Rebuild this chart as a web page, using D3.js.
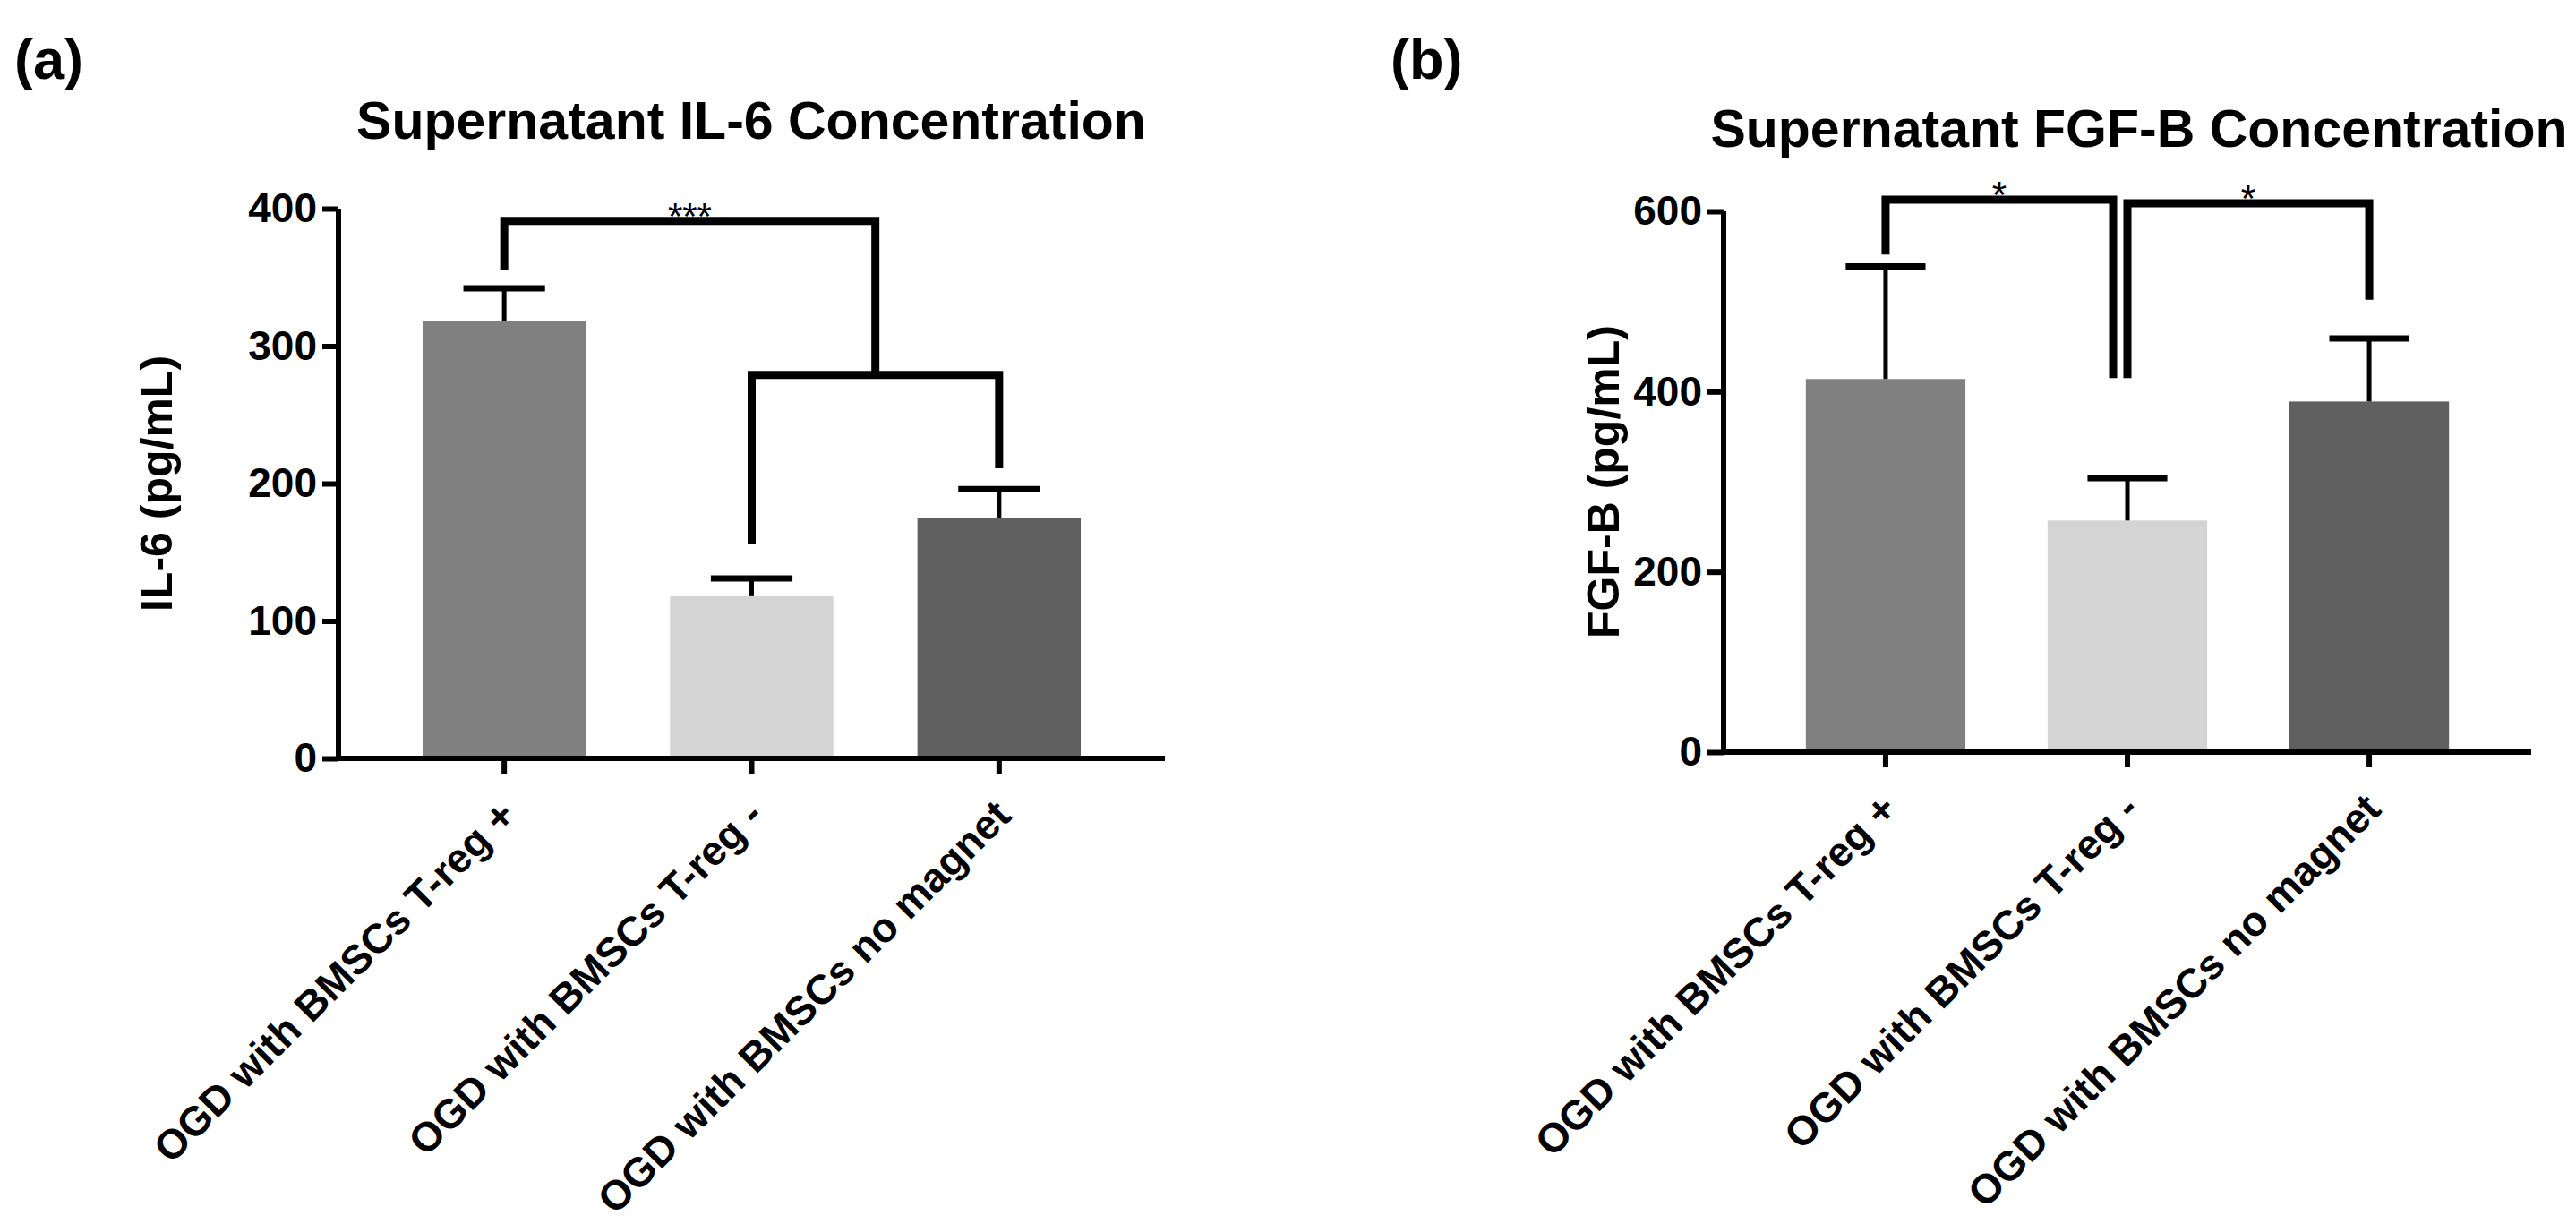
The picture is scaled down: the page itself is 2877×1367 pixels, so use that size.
<!DOCTYPE html>
<html>
<head>
<meta charset="utf-8">
<script src="https://cdn.jsdelivr.net/npm/d3@7"></script>
<style>
  html, body { margin: 0; padding: 0; background: #fff; }
  svg { display: block; }
  text { font-family: "Liberation Sans", Arial, sans-serif; fill: #000; }
  .domain, .tick line { stroke: #000; stroke-width: 6; }
</style>
</head>
<body>
<script>
// groups, same for both panels
const categories = ["OGD with BMSCs T-reg +", "OGD with BMSCs T-reg -", "OGD with BMSCs no magnet"];
const barColors = ["#808080", "#d4d4d4", "#606060"];

// (a) IL-6, mean and SEM in pg/mL
const il6Mean = [318, 118, 175];
const il6Sem = [24, 13, 21];
const il6Ticks = [0, 100, 200, 300, 400];
// brackets: from bar a to bar b (or the middle of bars 1-2), line level, leg ends
const il6Sig = [
  { a: 0, b: [1, 2], level: 391, endA: 355, endB: 279, mark: "***" },
  { a: 1, b: 2, level: 279, endA: 156, endB: 211, mark: "" }
];

// (b) FGF-B
const fgfMean = [414, 257, 389];
const fgfSem = [125, 47, 70];
const fgfTicks = [0, 200, 400, 600];
const fgfSig = [
  { a: 0, b: 1, level: 613, endA: 552, endB: 415, mark: "*" },
  { a: 1, b: 2, level: 609, endA: 415, endB: 502, mark: "*" }
];

const W = 2877, H = 1367;
const svg = d3.select("body").append("svg").attr("width", W).attr("height", H);

function panel(p) {
  const g = svg.append("g");
  const x = d3.scaleBand().domain(categories).range([p.left, p.right]).padding(0.34);
  const y = d3.scaleLinear().domain([0, p.ticks[p.ticks.length - 1]]).range([p.bottom, p.top]);
  const cx = i => x(categories[i]) + x.bandwidth() / 2;

  // bars
  g.selectAll("rect.bar").data(p.mean).enter().append("rect")
    .attr("x", (d, i) => x(categories[i]))
    .attr("width", x.bandwidth())
    .attr("y", d => y(d))
    .attr("height", d => y(0) - y(d))
    .attr("fill", (d, i) => barColors[i]);

  // error bars (upper only)
  const capW = x.bandwidth() / 2;
  g.selectAll("line.err").data(p.mean).enter().append("line")
    .attr("x1", (d, i) => cx(i)).attr("x2", (d, i) => cx(i))
    .attr("y1", d => y(d)).attr("y2", (d, i) => y(d + p.sem[i]))
    .attr("stroke", "#000").attr("stroke-width", 5);
  g.selectAll("line.cap").data(p.mean).enter().append("line")
    .attr("x1", (d, i) => cx(i) - capW / 2).attr("x2", (d, i) => cx(i) + capW / 2)
    .attr("y1", (d, i) => y(d + p.sem[i])).attr("y2", (d, i) => y(d + p.sem[i]))
    .attr("stroke", "#000").attr("stroke-width", 7);

  // axes
  const yAxis = g.append("g").attr("transform", `translate(${p.left},0)`)
    .call(d3.axisLeft(y).tickValues(p.ticks).tickSize(18).tickSizeOuter(0).tickPadding(6));
  const xAxis = g.append("g").attr("transform", `translate(0,${p.bottom})`)
    .call(d3.axisBottom(x).tickSize(17).tickSizeOuter(0).tickFormat(""));
  yAxis.selectAll(".tick text").attr("font-size", 46).attr("font-weight", "bold")
    .style("font-family", '"Liberation Sans", Arial, sans-serif');
  yAxis.select(".domain").attr("d", `M0,${p.top}V${p.bottom}`);
  xAxis.select(".domain").attr("d", `M${p.left},0H${p.right}`);

  // rotated category labels
  g.selectAll("text.cat").data(categories).enter().append("text")
    .attr("transform", d => `translate(${x(d) + x.bandwidth() / 2 + 4},${p.bottom + 55}) rotate(-45)`)
    .attr("text-anchor", "end").attr("dy", "0.35em")
    .attr("font-size", 46).attr("font-weight", "bold")
    .text(d => d);

  // y title
  g.append("text")
    .attr("transform", `translate(${p.yTitleX},${(p.top + p.bottom) / 2}) rotate(-90)`)
    .attr("text-anchor", "middle").attr("dy", "0.35em")
    .attr("font-size", 50).attr("font-weight", "bold")
    .text(p.yTitle);

  // chart title and panel letter
  g.append("text").attr("x", p.titleX).attr("y", p.titleY)
    .attr("text-anchor", "middle").attr("font-size", 59).attr("font-weight", "bold")
    .text(p.title);
  g.append("text").attr("x", p.letterX).attr("y", 88)
    .attr("font-size", 63).attr("font-weight", "bold")
    .text(p.letter);

  // significance brackets
  p.sig.forEach(s => {
    const xa = cx(s.a);
    let xb = Array.isArray(s.b) ? (cx(s.b[0]) + cx(s.b[1])) / 2 : cx(s.b);
    // two brackets meeting on the same bar sit side by side
    if (p.sig.some(o => o !== s && o.a === s.b)) xb -= 16;
    g.append("path")
      .attr("d", `M${xa},${y(s.endA)}V${y(s.level)}H${xb}V${y(s.endB)}`)
      .attr("fill", "none").attr("stroke", "#000").attr("stroke-width", 9)
      .attr("stroke-linejoin", "miter");
    if (s.mark) {
      g.append("text").attr("x", (xa + xb) / 2).attr("y", y(s.level) + 9)
        .attr("text-anchor", "middle").attr("font-size", 42)
        .text(s.mark);
    }
  });
}

panel({
  mean: il6Mean, sem: il6Sem, ticks: il6Ticks, sig: il6Sig,
  left: 378, right: 1301, top: 233, bottom: 847,
  title: "Supernatant IL-6 Concentration", titleX: 839, titleY: 155,
  yTitle: "IL-6 (pg/mL)", yTitleX: 174,
  letter: "(a)", letterX: 16
});

panel({
  mean: fgfMean, sem: fgfSem, ticks: fgfTicks, sig: fgfSig,
  left: 1925, right: 2827, top: 236, bottom: 840,
  title: "Supernatant FGF-B Concentration", titleX: 2389, titleY: 164,
  yTitle: "FGF-B (pg/mL)", yTitleX: 1790,
  letter: "(b)", letterX: 1553
});
</script>
</body>
</html>
